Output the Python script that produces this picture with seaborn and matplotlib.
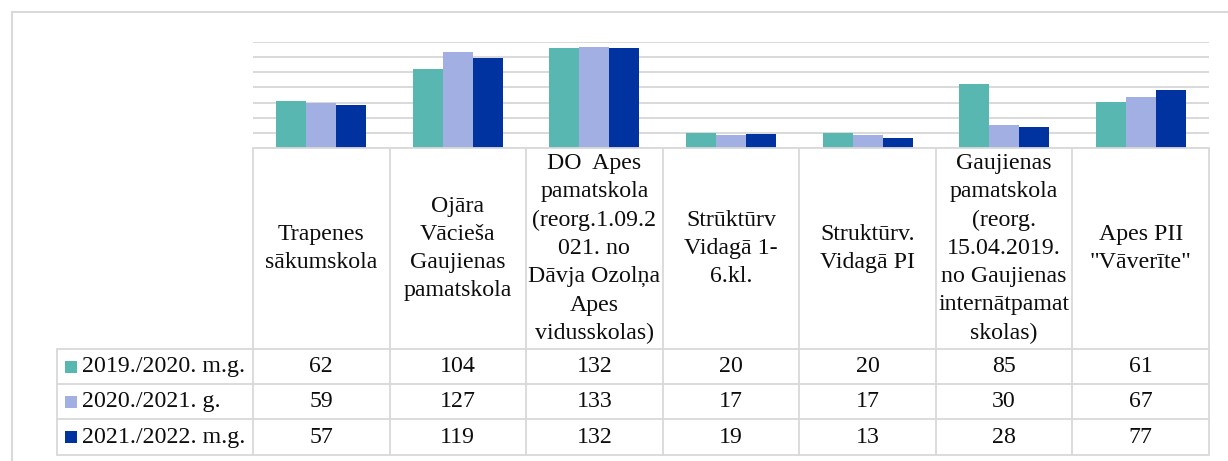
import matplotlib
matplotlib.use("Agg")
import matplotlib.pyplot as plt
import matplotlib.transforms as mtransforms
import seaborn as sns
import pandas as pd

# ---- data ----
schools = [
    "Trapenes\nsākumskola",
    "Ojāra\nVācieša\nGaujienas\npamatskola",
    "DO  Apes\npamatskola\n(reorg.1.09.2\n021. no\nDāvja Ozolņa\nApes\nvidusskolas)",
    "Strūktūrv\nVidagā 1-\n6.kl.",
    "Struktūrv.\nVidagā PI",
    "Gaujienas\npamatskola\n(reorg.\n15.04.2019.\nno Gaujienas\ninternātpamat\nskolas)",
    "Apes PII\n\"Vāverīte\"",
]
years = ["2019./2020. m.g.", "2020./2021. g.", "2021./2022. m.g."]
v2019 = [62, 104, 132, 20, 20, 85, 61]
v2020 = [59, 127, 133, 17, 17, 30, 67]
v2021 = [57, 119, 132, 19, 13, 28, 77]
colors = ["#58B7B1", "#A1AFE3", "#0033A0"]

series = [v2019, v2020, v2021]
rows = []
for y, vals in zip(years, series):
    for s, v in zip(schools, vals):
        rows.append({"school": s, "year": y, "value": v})
df = pd.DataFrame(rows)

W, H = 1228, 461
fig = plt.figure(figsize=(W / 100, H / 100), dpi=100)
sns.set_style("white")
plt.rcParams["font.family"] = ["Liberation Serif", "DejaVu Serif"]

def fx(px):
    return px / W

def fy(py):
    return 1 - py / H

left_px, right_px, top_px, base_px = 253, 1209, 42, 148
ax = fig.add_axes([fx(left_px), fy(base_px), fx(right_px - left_px), (base_px - top_px) / H])

sns.barplot(data=df, x="school", y="value", hue="year", order=schools,
            hue_order=years, palette=colors, width=0.66, saturation=1,
            legend=False, ax=ax, edgecolor="none", zorder=3)
ax.set_xlim(-0.5, len(schools) - 0.5)
ax.set_ylim(0, 140)
ax.set_yticks(range(0, 141, 20))
ax.yaxis.grid(True, color="#d9d9d9", linewidth=1.4, zorder=0)
ax.set_axisbelow(True)
ax.tick_params(left=False, bottom=False, labelleft=False, labelbottom=False)
ax.set_xlabel("")
ax.set_ylabel("")
for sp in ax.spines.values():
    sp.set_visible(False)

# ---- data table ----
lc = "#d9d9d9"
lw = 1.3
bt = mtransforms.blended_transform_factory(ax.transData, fig.transFigure)
ft = fig.transFigure
n = len(schools)
row_y = [349, 384, 419, 455]
header_top = 148
legend_left = 57

for i in range(n + 1):
    ax.plot([i - 0.5, i - 0.5], [fy(header_top), fy(row_y[-1])], color=lc, lw=lw,
            transform=bt, clip_on=False, zorder=5)
ax.plot([-0.5, n - 0.5], [fy(header_top)] * 2, color=lc, lw=lw, transform=bt,
        clip_on=False, zorder=5)
for ry in row_y:
    ax.plot([fx(legend_left), fx(right_px)], [fy(ry)] * 2, color=lc, lw=lw,
            transform=ft, clip_on=False, zorder=5)
ax.plot([fx(legend_left)] * 2, [fy(row_y[0]), fy(row_y[-1])], color=lc, lw=lw,
        transform=ft, clip_on=False, zorder=5)

fs = 17.2
tc = "#0d0d0d"
for i, s in enumerate(schools):
    ax.text(i, fy((header_top + row_y[0]) / 2), s, transform=bt, ha="center",
            va="center", multialignment="center", fontsize=fs, linespacing=1.45,
            color=tc)

for r, (y, vals, c) in enumerate(zip(years, series, colors)):
    yc = fy((row_y[r] + row_y[r + 1]) / 2)
    fig.patches.append(plt.Rectangle((fx(65), yc - 6 / H), 12 / W, 12 / H,
                                     transform=ft, facecolor=c, edgecolor="none"))
    fig.text(fx(82), yc, y, ha="left", va="center", fontsize=fs, color=tc)
    for i, v in enumerate(vals):
        ax.text(i, yc, str(v), transform=bt, ha="center", va="center",
                fontsize=fs, color=tc)

fig.add_artist(plt.Line2D([fx(12), fx(12)], [fy(12), 0], transform=ft, color=lc, lw=1.5))
fig.add_artist(plt.Line2D([fx(12), 1], [fy(12), fy(12)], transform=ft, color=lc, lw=1.5))

fig.savefig("out.png", dpi=100)
